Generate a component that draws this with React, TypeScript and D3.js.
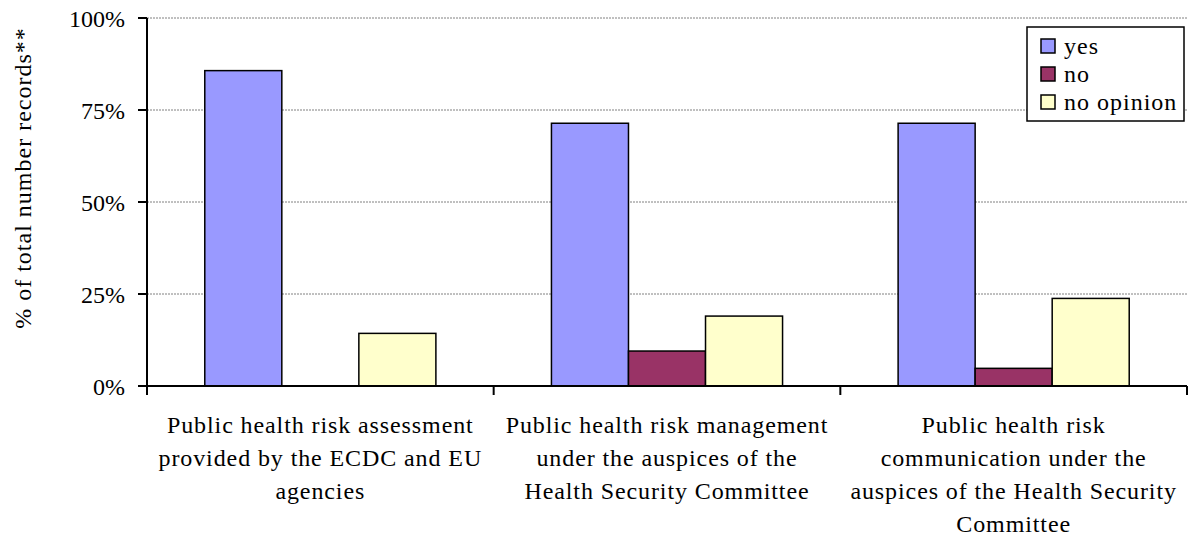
import React from "react";
import * as d3 from "d3";

const categories = [
  "Public health risk assessment provided by the ECDC and EU agencies",
  "Public health risk management under the auspices of the Health Security Committee",
  "Public health risk communication under the auspices of the Health Security Committee",
];
const categoryLines = [
  ["Public health risk assessment", "provided by the ECDC and EU", "agencies"],
  ["Public health risk management", "under the auspices of the", "Health Security Committee"],
  ["Public health risk", "communication under the", "auspices of the Health Security", "Committee"],
];
const seriesNames = ["yes", "no", "no opinion"];
const seriesColors = ["#9999FF", "#993366", "#FFFFCC"];
const yesValues = [85.7, 71.4, 71.4];
const noValues = [0, 9.5, 4.8];
const noOpinionValues = [14.3, 19.0, 23.8];
const yTicks = [0, 25, 50, 75, 100];
const yTitle = "% of total number records**";

const W = 1189;
const H = 541;
const FONT = '"Liberation Serif", "DejaVu Serif", serif';

export default function App() {
  const left = 147, right = 1187, top = 18, bottom = 386;
  const x = d3.scaleBand<string>().domain(categories).range([left, right]).paddingInner(0).paddingOuter(0);
  const xs = d3.scaleBand<string>().domain(seriesNames).range([0, x.bandwidth()]).paddingInner(0).paddingOuter(0.75);
  const y = d3.scaleLinear().domain([0, 100]).range([bottom, top]);
  const values = [yesValues, noValues, noOpinionValues];
  const txt = { fontFamily: FONT, fontSize: "24px" } as React.CSSProperties;
  const spaced = { ...txt, letterSpacing: "0.9px" } as React.CSSProperties;

  return (
    <svg width={W} height={H} style={{ position: "absolute", left: 0, top: 0, background: "#fff", fontFamily: FONT }}>
      {yTicks.filter((t) => t > 0).map((t) => (
        <line key={"g" + t} x1={left} x2={right} y1={y(t)} y2={y(t)} stroke="#808080" strokeWidth={1} strokeDasharray="2,1" />
      ))}
      {seriesNames.map((s, si) =>
        categories.map((c, ci) => {
          const v = values[si][ci];
          if (v <= 0) return null;
          const bx = (x(c) as number) + (xs(s) as number);
          return (
            <rect key={s + ci} x={bx} y={y(v)} width={xs.bandwidth()} height={y(0) - y(v)}
              fill={seriesColors[si]} stroke="#000" strokeWidth={1.5} />
          );
        })
      )}
      <line x1={left} x2={left} y1={top} y2={bottom + 9} stroke="#000" strokeWidth={2} />
      {yTicks.map((t) => (
        <g key={"t" + t}>
          <line x1={left - 9} x2={left} y1={y(t)} y2={y(t)} stroke="#000" strokeWidth={2} />
          <text x={125} y={y(t) + 9} textAnchor="end" style={txt} fill="#000">{t + "%"}</text>
        </g>
      ))}
      <line x1={left} x2={right} y1={bottom} y2={bottom} stroke="#000" strokeWidth={2} />
      {categories.map((c, i) => (
        <line key={"xt" + i} x1={(x(c) as number) + x.bandwidth()} x2={(x(c) as number) + x.bandwidth()} y1={bottom} y2={bottom + 9} stroke="#000" strokeWidth={2} />
      ))}
      {categories.map((c, i) => (
        <text key={"xl" + i} textAnchor="middle" style={spaced} fill="#000">
          {categoryLines[i].map((ln, li) => (
            <tspan key={li} x={(x(c) as number) + x.bandwidth() / 2} y={433 + li * 33}>{ln}</tspan>
          ))}
        </text>
      ))}
      <text transform={`translate(31, ${(top + bottom) / 2 - 24}) rotate(-90)`} textAnchor="middle" style={{ ...txt, letterSpacing: "1px" }} fill="#000">{yTitle}</text>
      <rect x={1027} y={27} width={157} height={94} fill="#fff" stroke="#000" strokeWidth={1.5} />
      {seriesNames.map((s, i) => (
        <g key={"lg" + i}>
          <rect x={1041} y={39 + i * 28} width={14} height={14} fill={seriesColors[i]} stroke="#000" strokeWidth={1.5} />
          <text x={1064} y={54 + i * 28} style={{ ...txt, letterSpacing: "1px" }} fill="#000">{s}</text>
        </g>
      ))}
    </svg>
  );
}
